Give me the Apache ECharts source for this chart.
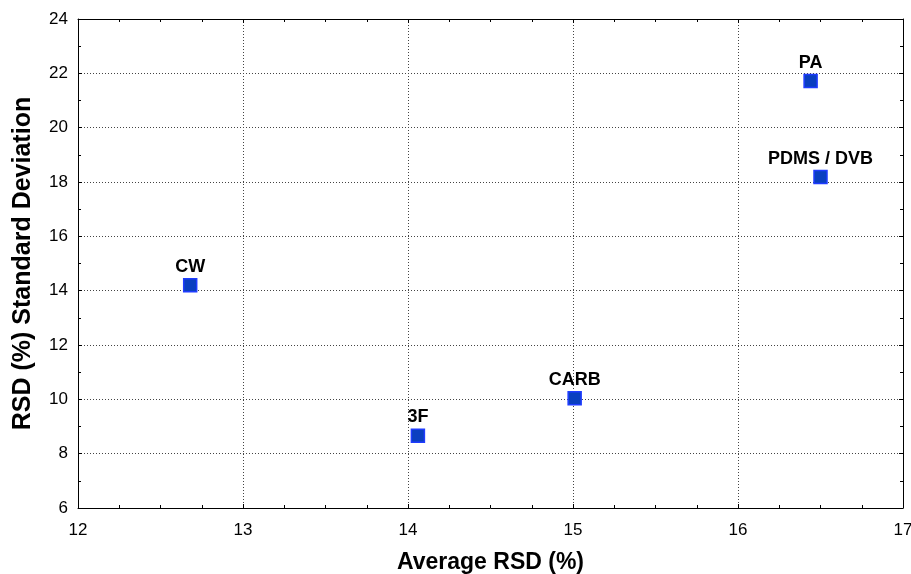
<!DOCTYPE html>
<html><head><meta charset="utf-8">
<script src="https://cdn.jsdelivr.net/npm/echarts@6/dist/echarts.min.js"></script>
<style>html,body{margin:0;padding:0;background:#fff;overflow:hidden}#c{width:911px;height:574px}</style>
</head><body><div id="c"></div>
<script>
const names = ['PA', 'PDMS / DVB', 'CW', '3F', 'CARB'];
const avgRSD = [16.44, 16.50, 12.68, 14.06, 15.01];
const sdRSD = [21.72, 18.18, 14.20, 8.66, 10.04];
const xTicks = [12, 13, 14, 15, 16, 17];
const yTicks = [6, 8, 10, 12, 14, 16, 18, 20, 22, 24];

const font = 'Liberation Sans, Arial, sans-serif';
const data = names.map((n, i) => ({ value: [avgRSD[i], sdRSD[i]], name: n }));

function axisBase(show) {
  return {
    axisLine: { show: true, onZero: false, lineStyle: { color: '#000', width: 1 } },
    axisTick: { show: true, inside: true, length: 4, lineStyle: { color: '#000' } },
    axisLabel: { show: show, color: '#000', fontSize: 17, fontFamily: font },
  };
}

const chart = echarts.init(document.getElementById('c'), null, { renderer: 'canvas', width: 911, height: 574 });
chart.setOption({
  animation: false,
  backgroundColor: '#fff',
  grid: { left: 78, right: 8, top: 19, bottom: 66, containLabel: false, outerBoundsMode: 'none' },
  xAxis: [
    Object.assign(axisBase(true), {
      type: 'value', min: xTicks[0], max: xTicks[xTicks.length - 1], interval: 1,
      name: 'Average RSD (%)', nameLocation: 'middle', nameGap: 43,
      nameTextStyle: { color: '#000', fontSize: 23, fontWeight: 'bold', fontFamily: font },
      minorTick: { show: true, splitNumber: 4, length: 3, lineStyle: { color: '#000' } },
      axisLabel: { show: true, color: '#000', fontSize: 17, fontFamily: font, margin: 14 },
      splitLine: { show: true, lineStyle: { color: '#444', type: [1, 2], width: 1 } },
    }),
    Object.assign(axisBase(false), {
      type: 'value', position: 'top', min: xTicks[0], max: xTicks[xTicks.length - 1], interval: 1,
      minorTick: { show: true, splitNumber: 4, length: 3, lineStyle: { color: '#000' } },
      splitLine: { show: false },
    }),
  ],
  yAxis: [
    Object.assign(axisBase(true), {
      type: 'value', min: yTicks[0], max: yTicks[yTicks.length - 1], interval: 2,
      name: 'RSD (%) Standard Deviation', nameLocation: 'middle', nameGap: 42,
      nameTextStyle: { color: '#000', fontSize: 25, fontWeight: 'bold', fontFamily: font },
      minorTick: { show: true, splitNumber: 2, length: 3, lineStyle: { color: '#000' } },
      axisLabel: { show: true, color: '#000', fontSize: 17, fontFamily: font, margin: 10 },
      splitLine: { show: true, lineStyle: { color: '#444', type: [1, 2], width: 1 } },
    }),
    Object.assign(axisBase(false), {
      type: 'value', position: 'right', min: yTicks[0], max: yTicks[yTicks.length - 1], interval: 2,
      minorTick: { show: true, splitNumber: 2, length: 3, lineStyle: { color: '#000' } },
      splitLine: { show: false },
    }),
  ],
  series: [{
    type: 'scatter',
    xAxisIndex: 0, yAxisIndex: 0,
    symbol: 'rect', symbolSize: 13,
    itemStyle: { color: '#0a3fc0', borderColor: '#1f3cff', borderWidth: 1.5, opacity: 1 },
    label: {
      show: true, position: 'top', distance: 2,
      formatter: p => p.data.name,
      color: '#000', fontSize: 18, fontWeight: 'bold', fontFamily: font,
    },
    data: data,
    z: 5,
  }],
});
</script>
</body></html>
